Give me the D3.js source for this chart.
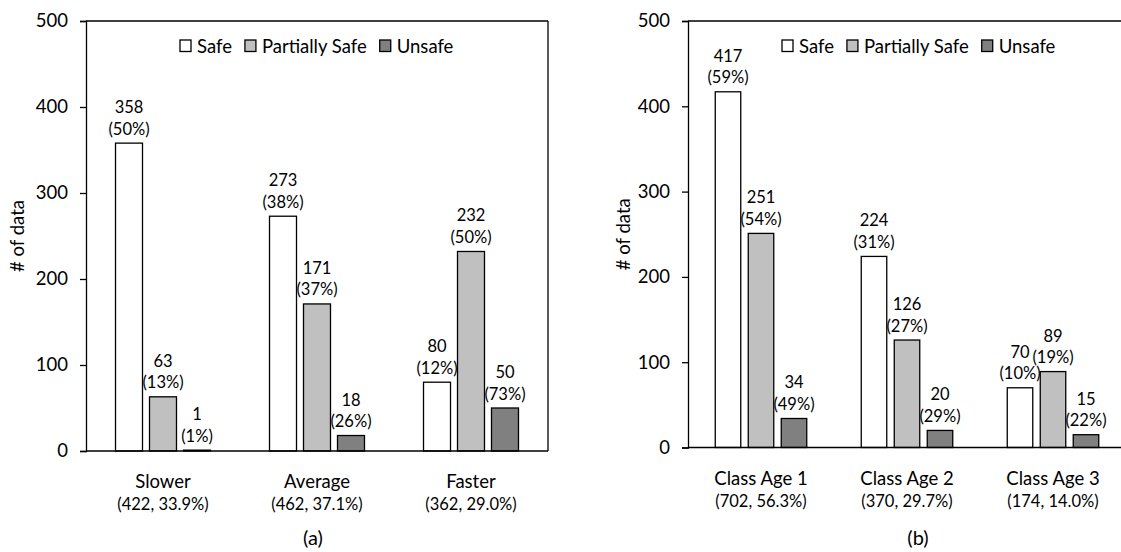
<!DOCTYPE html>
<html>
<head>
<meta charset="utf-8">
<script src="https://cdn.jsdelivr.net/npm/d3@7"></script>
<style>
  html, body { margin: 0; padding: 0; background: #fff; }
  svg { display: block; font-family: Lato, "Open Sans", sans-serif; }
</style>
</head>
<body>
<svg id="chart" width="1121" height="552"></svg>
<script>
// ---- Data ----
const seriesNames = ["Safe", "Partially Safe", "Unsafe"];
const seriesColors = ["#ffffff", "#c0c0c0", "#808080"];

const categoriesA = ["Slower", "Average", "Faster"];
const subLabelsA = ["(422, 33.9%)", "(462, 37.1%)", "(362, 29.0%)"];
const safeA = [358, 273, 80];
const partialA = [63, 171, 232];
const unsafeA = [1, 18, 50];
const safePctA = ["(50%)", "(38%)", "(12%)"];
const partialPctA = ["(13%)", "(37%)", "(50%)"];
const unsafePctA = ["(1%)", "(26%)", "(73%)"];

const categoriesB = ["Class Age 1", "Class Age 2", "Class Age 3"];
const subLabelsB = ["(702, 56.3%)", "(370, 29.7%)", "(174, 14.0%)"];
const safeB = [417, 224, 70];
const partialB = [251, 126, 89];
const unsafeB = [34, 20, 15];
const safePctB = ["(59%)", "(31%)", "(10%)"];
const partialPctB = ["(54%)", "(27%)", "(19%)"];
const unsafePctB = ["(49%)", "(29%)", "(22%)"];

const yTicks = [0, 100, 200, 300, 400, 500];
const yTitle = "# of data";

const svg = d3.select("#chart");

function panel(cfg) {
  const g = svg.append("g");
  const x = d3.scaleBand().domain(cfg.categories).range([cfg.left, cfg.right]).paddingInner(0).paddingOuter(0);
  const xs = d3.scaleBand().domain(seriesNames).range([0, x.bandwidth()])
    .paddingInner(cfg.pIn).paddingOuter(cfg.pOut);
  const y = d3.scaleLinear().domain([0, 500]).range([cfg.bottom, cfg.top]);

  // frame: top and right lines
  g.append("line").attr("x1", cfg.left).attr("x2", cfg.frameRight)
    .attr("y1", y(500)).attr("y2", y(500)).attr("stroke", "#000").attr("stroke-width", 1.3);
  if (cfg.drawRight) {
    g.append("line").attr("x1", cfg.frameRight).attr("x2", cfg.frameRight)
      .attr("y1", y(500)).attr("y2", y(0)).attr("stroke", "#000").attr("stroke-width", 1.3);
  }

  // y axis
  const yAxis = d3.axisLeft(y).tickValues(yTicks).tickSize(6).tickPadding(12).tickFormat(d3.format("d"));
  const ya = g.append("g").attr("transform", `translate(${cfg.left},0)`).call(yAxis);
  ya.select(".domain").attr("stroke", "#000").attr("stroke-width", 1.3);
  ya.selectAll(".tick line").attr("stroke", "#000").attr("stroke-width", 1.3);
  ya.selectAll(".tick text").attr("font-size", 18.5).attr("fill", "#000")
    .attr("font-family", "Lato, sans-serif");

  // y title
  g.append("text").attr("transform", `translate(${cfg.titleX},${(cfg.top + cfg.bottom) / 2 + 0}) rotate(-90)`)
    .attr("text-anchor", "middle").attr("dy", "0.35em").attr("font-size", 18.5).text(yTitle);

  // bars
  const data = cfg.categories.map((c, i) => ({
    cat: c,
    vals: seriesNames.map((s, j) => ({
      s, j, v: cfg.series[j][i], pct: cfg.pcts[j][i]
    }))
  }));
  const grp = g.selectAll("g.grp").data(data).enter().append("g")
    .attr("transform", d => `translate(${x(d.cat)},0)`);
  grp.selectAll("rect").data(d => d.vals).enter().append("rect")
    .attr("x", d => xs(d.s)).attr("width", xs.bandwidth())
    .attr("y", d => y(d.v)).attr("height", d => y(0) - y(d.v))
    .attr("fill", d => seriesColors[d.j]).attr("stroke", "#000").attr("stroke-width", 1.3);
  grp.selectAll("text.v").data(d => d.vals).enter().append("text")
    .attr("x", d => xs(d.s) + xs.bandwidth() / 2).attr("y", d => y(d.v) - 30)
    .attr("text-anchor", "middle").attr("font-size", 16.5).text(d => d.v);
  grp.selectAll("text.p").data(d => d.vals).enter().append("text")
    .attr("x", d => xs(d.s) + xs.bandwidth() / 2).attr("y", d => y(d.v) - 8.5)
    .attr("text-anchor", "middle").attr("font-size", 16.5).text(d => d.pct);

  // x axis baseline
  g.append("line").attr("x1", cfg.left).attr("x2", cfg.frameRight)
    .attr("y1", y(0)).attr("y2", y(0)).attr("stroke", "#000").attr("stroke-width", 1.3);

  // category labels
  cfg.categories.forEach((c, i) => {
    const cx = x(c) + x.bandwidth() / 2;
    g.append("text").attr("x", cx).attr("y", cfg.bottom + 37).attr("text-anchor", "middle")
      .attr("font-size", 18.5).text(c);
    g.append("text").attr("x", cx).attr("y", cfg.bottom + 59).attr("text-anchor", "middle")
      .attr("font-size", 16.5).text(cfg.subs[i]);
  });

  // panel caption
  g.append("text").attr("x", cfg.captionX).attr("y", 545).attr("text-anchor", "middle")
    .attr("font-size", 20).text(cfg.caption);

  // legend
  let lx = cfg.legendX;
  const ly = 40;
  seriesNames.forEach((s, j) => {
    g.append("rect").attr("x", lx).attr("y", ly).attr("width", 11).attr("height", 11.5)
      .attr("fill", seriesColors[j]).attr("stroke", "#000").attr("stroke-width", 1.3);
    const t = g.append("text").attr("x", lx + 17).attr("y", ly + 12.5).attr("font-size", 18.5).text(s);
    lx += 17 + t.node().getComputedTextLength() + 13;
  });
}

panel({
  categories: categoriesA, subs: subLabelsA,
  series: [safeA, partialA, unsafeA], pcts: [safePctA, partialPctA, unsafePctA],
  left: 86, right: 548, frameRight: 548, drawRight: true, top: 21, bottom: 451,
  pIn: 0.206, pOut: 0.868, titleX: 18, caption: "(a)", captionX: 313, legendX: 180
});

panel({
  categories: categoriesB, subs: subLabelsB,
  series: [safeB, partialB, unsafeB], pcts: [safePctB, partialPctB, unsafePctB],
  left: 688, right: 1126, frameRight: 1126, drawRight: false, top: 21, bottom: 447.5,
  pIn: 0.227, pOut: 0.826, titleX: 624, caption: "(b)", captionX: 918, legendX: 782
});
</script>
</body>
</html>
